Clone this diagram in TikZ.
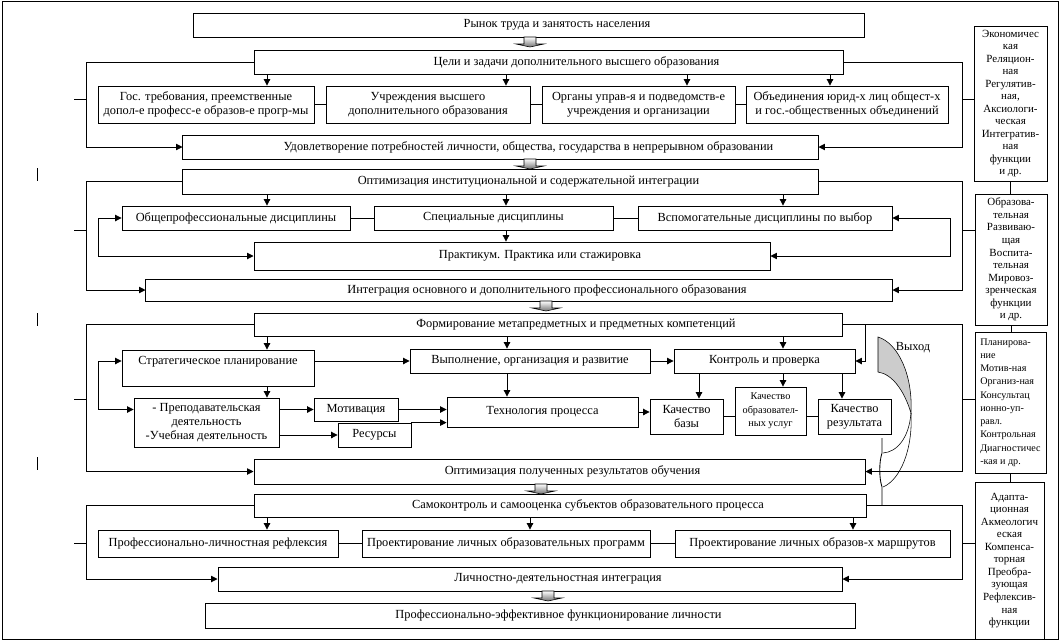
\documentclass[tikz,border=0pt]{standalone}
\usepackage{fontspec}
\setmainfont{Liberation Serif}
\usetikzlibrary{arrows.meta}

\begin{document}
\begin{tikzpicture}[
        x=0.025cm, y=-0.025cm,
        box/.style={rectangle, draw=black, line width=0.6pt, fill=white, align=center, inner sep=1pt, font=\fontsize{8.8}{10.2}\selectfont},
        wide/.style={box, execute at begin node={\hspace*{#1}}},
        wide/.default=1.4cm,
        func/.style={rectangle, draw=black, line width=0.6pt, fill=white, align=center, inner sep=1pt, font=\fontsize{7.8}{8.9}\selectfont},
        arrow/.style={-{Triangle[length=1.6mm,width=1.6mm]}, line width=0.6pt},
        twoway/.style={{Triangle[length=1.6mm,width=1.6mm]}-{Triangle[length=1.6mm,width=1.6mm]}, line width=0.6pt},
        link/.style={line width=0.6pt},
        flow/.style={draw=black, line width=0.4pt, top color=white, bottom color=black!55}
    ]
    \useasboundingbox (0,0) rectangle (1059,641);
    \draw[link] (2,1) rectangle (1058,639);

    % bracket columns and tick rows
    \coordinate (lb) at (86,0);
    \coordinate (rb) at (962,0);
    \coordinate (li) at (98,0);
    \coordinate (ri) at (950,0);
    \coordinate (kr) at (865,0);
    \coordinate (t1) at (0,99);
    \coordinate (t2) at (0,230);
    \coordinate (t3) at (0,399);
    \coordinate (t4) at (0,543);

    % Nodes
    \node[wide, minimum width=16.75cm, minimum height=0.6cm] (rynok) at (529,25) {Рынок труда и занятость населения};
    \node[wide, minimum width=14.725cm, minimum height=0.6cm] (tseli) at (548.5,62) {Цели и задачи дополнительного высшего образования};
    \node[box, minimum width=5.4cm, minimum height=0.925cm] (gos) at (206,104.5) {Гос. требования, преемственные\\допол-е професс-е образов-е прогр-мы};
    \node[box, minimum width=5.1cm, minimum height=0.925cm] (uchr) at (428,104.5) {Учреждения высшего\\дополнительного образования};
    \node[box, minimum width=4.825cm, minimum height=0.925cm] (organy) at (638.5,104.5) {Органы управ-я и подведомств-е\\учреждения и организации};
    \node[box, minimum width=5.05cm, minimum height=0.925cm] (obed) at (847,104.5) {Объединения юрид-х лиц общест-х\\и гос.-общественных объединений};
    \node[wide, minimum width=15.875cm, minimum height=0.6cm] (udovl) at (500.5,147) {Удовлетворение потребностей личности, общества, государства в непрерывном образовании};

    \node[wide, minimum width=15.875cm, minimum height=0.625cm] (optim) at (500.5,181.5) {Оптимизация институциональной и содержательной интеграции};
    \node[box, minimum width=5.7cm, minimum height=0.6cm] (obshch) at (236,218) {Общепрофессиональные дисциплины};
    \node[box, minimum width=5.975cm, minimum height=0.6cm] (spets) at (493.5,218) {Специальные дисциплины};
    \node[box, minimum width=6.35cm, minimum height=0.6cm] (vspom) at (765,218) {Вспомогательные дисциплины по выбор};
    \node[wide, minimum width=12.9cm, minimum height=0.7cm] (prakt) at (512,256) {Практикум. Практика или стажировка};
    \node[wide, minimum width=18.65cm, minimum height=0.55cm] (integr) at (519,290) {Интеграция основного и дополнительного профессионального образования};

    \node[wide, minimum width=14.7cm, minimum height=0.575cm] (form) at (548,324.5) {Формирование метапредметных и предметных компетенций};
    \node[box, minimum width=4.8cm, minimum height=0.9cm] (strat) at (218,368) {Стратегическое планирование\\ ~};
    \node[box, minimum width=6cm, minimum height=0.6cm] (vypoln) at (530,361) {Выполнение, организация и развитие};
    \node[box, minimum width=4.525cm, minimum height=0.6cm] (kontrol) at (764.5,361) {Контроль и проверка};
    \node[box, minimum width=3.625cm, minimum height=1.225cm] (prep) at (206.5,422.5) {- Преподавательская\\деятельность\\-Учебная деятельность};
    \node[box, minimum width=2.1cm, minimum height=0.575cm] (motiv) at (356,409.5) {Мотивация};
    \node[box, minimum width=1.825cm, minimum height=0.6cm] (resurs) at (374.5,435) {Ресурсы};
    \node[box, minimum width=4.775cm, minimum height=0.75cm] (tekhn) at (542.5,412) {Технология процесса};
    \node[box, minimum width=1.825cm, minimum height=0.875cm] (kbazy) at (686.5,416.5) {Качество\\базы};
    \node[box, minimum width=1.775cm, minimum height=1.2cm, font=\fontsize{7.3}{9.5}\selectfont] (kuslug) at (770.5,411) {Качество\\образовател-\\ных услуг};
    \node[box, minimum width=1.825cm, minimum height=0.875cm] (kresult) at (854.5,416.5) {Качество\\результата};
    \node[wide=0.65cm, minimum width=15.275cm, minimum height=0.625cm] (optpol) at (559.5,471.5) {Оптимизация полученных результатов обучения};

    \node[wide, minimum width=15.3cm, minimum height=0.575cm] (samok) at (560,505.5) {Самоконтроль и самооценка субъектов образовательного процесса};
    \node[box, minimum width=6cm, minimum height=0.675cm] (refl) at (218,543.5) {Профессионально-личностная рефлексия};
    \node[box, minimum width=7.2cm, minimum height=0.675cm] (proekt1) at (506,543.5) {Проектирование личных образовательных программ};
    \node[box, minimum width=6.875cm, minimum height=0.675cm] (proekt2) at (812.5,543.5) {Проектирование личных образов-х маршрутов};
    \node[wide, minimum width=15.6cm, minimum height=0.6cm] (lichn) at (530,579) {Личностно-деятельностная интеграция};
    \node[wide, minimum width=16.225cm, minimum height=0.625cm] (profeff) at (530.5,615.5) {Профессионально-эффективное функционирование личности};

    % functions column
    \node[func, minimum width=1.825cm, minimum height=3.875cm] (f1) at (1010.5,103.5) {Экономичес\\кая\\Реляцион-\\ная\\Регулятив-\\ная,\\Аксиологи-\\ческая\\Интегратив-\\ная\\функции\\и др.};
    \node[func, minimum width=1.8cm, minimum height=3.275cm] (f2) at (1011,259.5) {Образова-\\тельная\\Развиваю-\\щая\\Воспита-\\тельная\\Мировоз-\\зренческая\\функции\\и др.};
    \node[func, align=left, minimum width=1.775cm, minimum height=3.525cm, font=\fontsize{7.2}{9.4}\selectfont] (f3) at (1010.5,402.5) {Планирова-\\ние\\Мотив-ная\\Организ-ная\\Консультац\\ионно-уп-\\равл.\\Контрольная\\Диагностичес\\-кая и др.};
    \node[func, minimum width=1.725cm, minimum height=3.925cm] (f4) at (1009.5,560.5) {Адапта-\\ционная\\Акмеологич\\еская\\Компенса-\\торная\\Преобра-\\зующая\\Рефлексив-\\ная\\функции};

    % block arrows between levels
    \foreach \x/\y in {530/37, 530/159, 546/301, 541/484, 548/591}
        \path[flow] (\x-6,\y) -- (\x+6,\y) -- (\x+6,\y+7) -- (\x+14,\y+7) -- (\x,\y+10) -- (\x-14,\y+7) -- (\x-6,\y+7) -- cycle;

    % Connections: level 1
    \foreach \x/\n in {267/gos, 506/uchr, 687/organy, 830/obed}
        \draw[arrow] (tseli.south -| \x,0) -- (\n.north -| \x,0);
    \draw[link] (gos) -- (uchr);
    \draw[link] (uchr) -- (organy);
    \draw[link] (organy) -- (obed);
    \draw[arrow] (tseli.west) -- (tseli.west -| lb) |- (udovl.west);
    \draw[arrow] (tseli.east) -- (tseli.east -| rb) |- (udovl.east);
    \draw[link] (lb |- t1) -- ++(-12,0);
    \draw[link] (rb |- t1) -- (f1.west |- t1);

    % level 2
    \foreach \x/\n in {267/obshch, 506/spets, 783/vspom}
        \draw[arrow] (optim.south -| \x,0) -- (\n.north -| \x,0);
    \draw[link] (obshch) -- (spets);
    \draw[link] (spets) -- (vspom);
    \draw[arrow] (spets.south -| 506,0) -- (prakt.north -| 506,0);
    \draw[twoway] (obshch.west) -- (obshch.west -| li) |- (prakt.west);
    \draw[twoway] (vspom.east) -- (vspom.east -| ri) |- (prakt.east);
    \draw[arrow] (optim.west) -- (optim.west -| lb) |- (integr.west);
    \draw[arrow] (optim.east) -- (optim.east -| rb) |- (integr.east);
    \draw[link] (lb |- t2) -- ++(-12,0);
    \draw[link] (rb |- t2) -- (f2.west |- t2);

    % level 3
    \foreach \x/\n in {267/strat, 507/vypoln, 783/kontrol}
        \draw[arrow] (form.south -| \x,0) -- (\n.north -| \x,0);
    \draw[arrow] (strat.east |- vypoln) -- (vypoln.west);
    \draw[arrow] (vypoln) -- (kontrol);
    \draw[arrow] (form.east -| kr) |- (kontrol.east);
    \draw[arrow] (strat.south -| 267,0) -- (prep.north -| 267,0);
    \draw[twoway] (strat.west |- vypoln) -- (li |- vypoln) |- (prep.west |- motiv);
    \draw[arrow] (prep.east |- motiv) -- (motiv.west);
    \draw[arrow] (prep.east |- resurs) -- (resurs.west);
    \draw[arrow] (motiv.east) -- (tekhn.west |- motiv);
    \draw[arrow] (resurs.north east) -- (tekhn.west |- resurs.north east);
    \draw[arrow] (vypoln.south -| 507,0) -- (tekhn.north -| 507,0);
    \draw[arrow] (tekhn.east) -- (kbazy.west |- tekhn.east);
    \foreach \x/\n in {699/kbazy, 783/kuslug, 842/kresult}
        \draw[arrow] (kontrol.south -| \x,0) -- (\n.north -| \x,0);
    \draw[link] (kbazy.east) -- (kuslug.west |- kbazy.east);
    \draw[link] (kuslug.east |- kresult) -- (kresult.west);
    \draw[arrow] (form.west) -- (form.west -| lb) |- (optpol.west);
    \draw[arrow] (form.east) -- (form.east -| rb) |- (optpol.east);
    \draw[link] (lb |- t3) -- ++(-12,0);
    \draw[link] (rb |- t3) -- (f3.west |- t3);

    % level 4
    \foreach \x/\n in {267/refl, 530/proekt1, 853/proekt2}
        \draw[arrow] (samok.south -| \x,0) -- (\n.north -| \x,0);
    \draw[link] (refl) -- (proekt1);
    \draw[link] (proekt1) -- (proekt2);
    \draw[arrow] (samok.west) -- (samok.west -| lb) |- (lichn.west);
    \draw[arrow] (samok.east) -- (samok.east -| rb) |- (lichn.east);
    \draw[link] (lb |- t4) -- ++(-12,0);
    \draw[link] (rb |- t4) -- (f4.west |- t4);

    % functions column links
    \draw[link] (f1.south) -- (f1.south |- f2.north);
    \draw[link] (f2.south) -- (f2.south |- f3.north);
    \draw[link] (f3.south) -- (f3.south |- f4.north);

    % curved exit arrow
    \filldraw[fill=black!20, line width=0.4pt] (878,337) .. controls (898,343) and (913,375) .. (911,413) .. controls (904,390) and (892,374) .. (878,372) -- cycle;
    \draw[line width=0.4pt] (911,413) .. controls (909,438) and (897,452) .. (883,453);
    \draw[line width=0.4pt] (911,413) .. controls (913,450) and (900,480) .. (883,487);
    \draw[line width=0.6pt] (882,438) -- (882,453) .. controls (879,462) and (879,478) .. (882,487) -- (882,505);
    \node[font=\fontsize{8.8}{10}\selectfont, inner sep=0pt] (vykhod) at (913,348) {Выход};

    % stray marks
    \foreach \y in {168,313,457}
        \draw[link] (37,\y) -- (37,\y+13);
\end{tikzpicture}
\end{document}
